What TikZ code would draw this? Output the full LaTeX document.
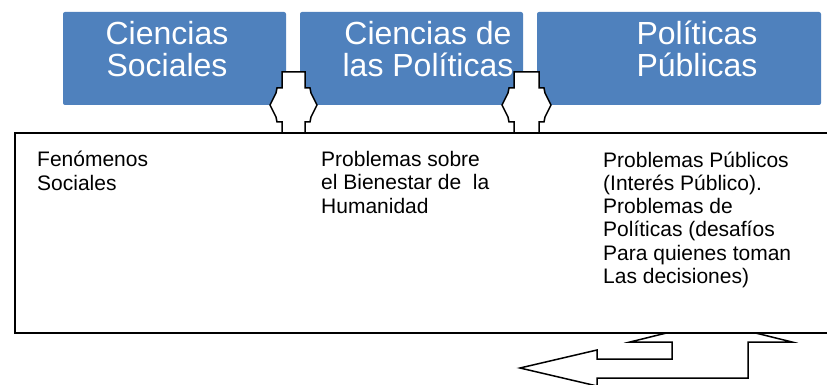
\documentclass[tikz,border=0pt]{standalone}
\usepackage{fontspec}
\setmainfont{Liberation Sans}
\definecolor{boxblue}{RGB}{79,129,189}
\tikzset{
	bluebox/.style={fill=boxblue, rounded corners=2pt, inner sep=0pt, minimum height=93pt},
	bigtext/.style={text=white, align=center, inner sep=0pt, anchor=base, font=\fontsize{32}{32.3}\selectfont},
	smalltext/.style={align=left, inner sep=0pt, anchor=base west, font=\fontsize{21}{23.3}\selectfont},
	outline/.style={draw=black, fill=white, line width=1.5pt}
}

\begin{document}
\begin{tikzpicture}[x=1pt, y=-1pt]
		\clip (0,0) rectangle (827,385);
		% blue boxes
		\foreach \n/\l/\r in {1/63/286, 2/300/523, 3/537/821} {
			\pgfmathsetmacro{\w}{\r-\l}
			\node[bluebox, minimum width=\w pt] (box\n) at ({(\l+\r)/2},58.5) {};
		}
		% texts sit on the baseline of their last line
		\node[bigtext] (title1) at (167,77) {Ciencias\\Sociales};
		\node[bigtext] (title2) at (428,77) {Ciencias de\\las Políticas};
		\node[bigtext] (title3) at (697,77) {Políticas\\Públicas};
		% double arrows between boxes
		\foreach \a/\b in {282/305, 514/539} {
			\draw[outline] (\a,140) -- (\a,122) -- ({\a-5},122) -- ({\a-6},117) -- ({\a-12},105) -- ({\a-6},93) -- ({\a-5},88) -- (\a,88) -- (\a,72)
				-- (\b,72) -- (\b,88) -- ({\b+5},88) -- ({\b+6},93) -- ({\b+12},105) -- ({\b+6},117) -- ({\b+5},122) -- (\b,122) -- (\b,140) -- cycle;
		}
		% bent arrow under the frame
		\draw[outline] (520,368) -- (597,350) -- (597,359) -- (672,359) -- (672,342) -- (630,342) -- (711,322) -- (792,342)
			-- (748,342) -- (748,378) -- (597,378) -- (597,386) -- cycle;
		% frame
		\node[outline, inner sep=0pt, minimum width=835pt, minimum height=200pt] (frame) at (432.5,233) {};
		\node[smalltext] (col1) at (37,190) {Fenómenos\\Sociales};
		\node[smalltext] (col2) at (321,213) {Problemas sobre\\el Bienestar de\ \ la\\Humanidad};
		\node[smalltext] (col3) at (603,283.5) {Problemas Públicos\\(Interés Público).\\Problemas de\\Políticas (desafíos\\Para quienes toman\\Las decisiones)};
	\end{tikzpicture}
\end{document}
